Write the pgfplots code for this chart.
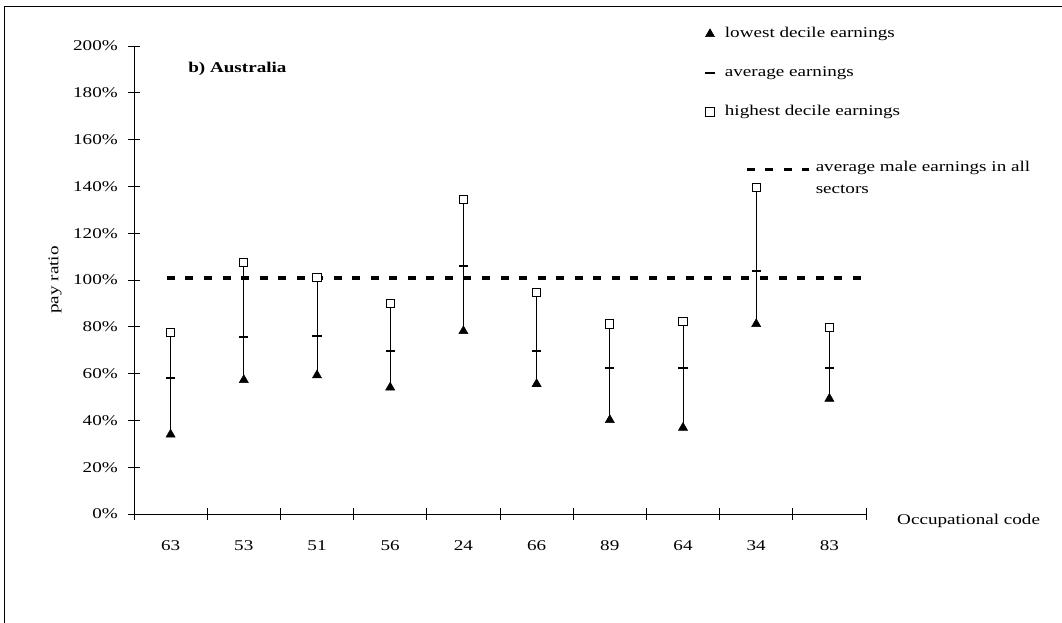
\documentclass[border=0pt]{standalone}
\usepackage{fontspec}
\setmainfont{Liberation Serif}[FakeStretch=1.28]
\usepackage{pgfplots}
\usepackage{pgfplotstable}
\pgfplotsset{compat=1.18}

% legend keys: a single mark, and a short dashed segment
\pgfplotsset{
  mark legend/.style={legend image code/.code={\draw[##1] plot coordinates {(0pt,0pt)};}},
  dash legend/.style={legend image code/.code={\draw[##1] (0pt,6.4pt) -- (46.5pt,6.4pt);}},
}

% Pay ratio by occupational code: lowest decile, average, highest decile (%)
\pgfplotstableread{
x low avg high
0 34.0 58.0 77.5
1 57.3 75.5 107.4
2 59.3 76.2 101.1
3 54.1 69.7 89.9
4 78.2 106.0 134.3
5 55.6 69.7 94.7
6 40.2 62.4 81.2
7 36.9 62.4 82.2
8 81.2 104.0 139.5
9 49.3 62.4 79.8
}\paydata

\begin{document}
\fontsize{11.2}{13.4}\selectfont
\begin{tikzpicture}[font=\fontsize{11.2}{13.4}\selectfont]
\path[use as bounding box] (0pt,0pt) rectangle (796.5pt,-466.5pt);
% outer frame
\draw[line width=0.75pt] (3pt,-480pt) -- (3pt,-4.5pt) -- (810pt,-4.5pt);

\begin{axis}[
  at={(100.5pt,-385.5pt)}, anchor=south west,
  scale only axis, width=549pt, height=351pt,
  xmin=-0.5, xmax=9.5, ymin=0, ymax=200,
  axis lines*=left,
  axis line style={-, line width=0.75pt},
  xtick={-0.5,0.5,...,9.5},
  x tick label as interval,
  xticklabels={63,53,51,56,24,66,89,64,34,83},
  ytick={0,20,...,200},
  yticklabel={\pgfmathprintnumber{\tick}\%},
  /pgf/number format/assume math mode=true,
  tick align=center,
  major tick length=9pt,
  tick style={black, line width=0.75pt},
  yticklabel style={anchor=east, inner sep=0pt, xshift=-7.5pt},
  xticklabel style={anchor=north, inner sep=0pt, yshift=-15pt},
  ylabel={pay ratio},
  ylabel style={at={(axis description cs:-0.108,0.5)}, rotate=0, anchor=center, inner sep=0pt},
  xlabel={Occupational code},
  xlabel style={at={(axis description cs:1.0423,-0.015)}, anchor=west, inner sep=0pt},
  clip=false,
  legend style={draw=none, fill=none, inner sep=0pt, outer sep=0pt,
    at={(axis description cs:0.7805,1.0429)}, anchor=north west,
    row sep=17pt, column sep=6.7pt,
    nodes={inner sep=1pt, text height=7.8pt, text depth=2.4pt}},
  legend cell align=left,
]
% range from lowest to highest decile
\addplot[draw=none, mark=none, forget plot,
  error bars/.cd, y dir=plus, y explicit, error mark=none,
  error bar style={draw=black, solid, line width=0.6pt}]
  table[x=x, y=low, y error plus expr=\thisrow{high}-\thisrow{low}] {\paydata};

\addplot[only marks, mark=triangle*, mark size=3.9pt,
  mark options={fill=black, draw=black, line width=0.4pt}, mark legend]
  table[x=x, y=low] {\paydata};
\addlegendentry{lowest decile earnings}

\addplot[only marks, mark=-, mark size=3.5pt,
  mark options={draw=black, line width=1.5pt}, mark legend]
  table[x=x, y=avg] {\paydata};
\addlegendentry{average earnings}

\addplot[only marks, mark=square*, mark size=3.1pt,
  mark options={fill=white, draw=black, line width=0.75pt}, mark legend]
  table[x=x, y=high] {\paydata};
\addlegendentry{highest decile earnings}

% average male earnings in all sectors
\addplot[forget plot, black, line width=2.8pt, dash pattern=on 6pt off 7.9pt]
  coordinates {(-0.05,101) (9.45,101)};

\node[anchor=west, inner sep=0pt, font=\fontsize{11.2}{13.4}\selectfont\bfseries]
  at (axis description cs:0.0738,0.9509) {b) Australia};
\end{axis}

\begin{axis}[
  at={(100.5pt,-385.5pt)}, anchor=south west,
  scale only axis, width=549pt, height=351pt,
  xmin=-0.5, xmax=9.5, ymin=0, ymax=200,
  hide axis,
  legend style={draw=none, fill=none, inner sep=0pt, outer sep=0pt,
    at={(axis description cs:0.8347,0.7575)}, anchor=north west,
    column sep=2.75pt,
    nodes={inner sep=1pt, align=left, font=\fontsize{11.2}{16.5}\selectfont}},
  legend cell align=left,
]
\addlegendimage{black, line width=2.8pt, dash pattern=on 6pt off 7.9pt, dash legend}
\addlegendentry{average male earnings in all\\sectors}
\end{axis}
\end{tikzpicture}
\end{document}
